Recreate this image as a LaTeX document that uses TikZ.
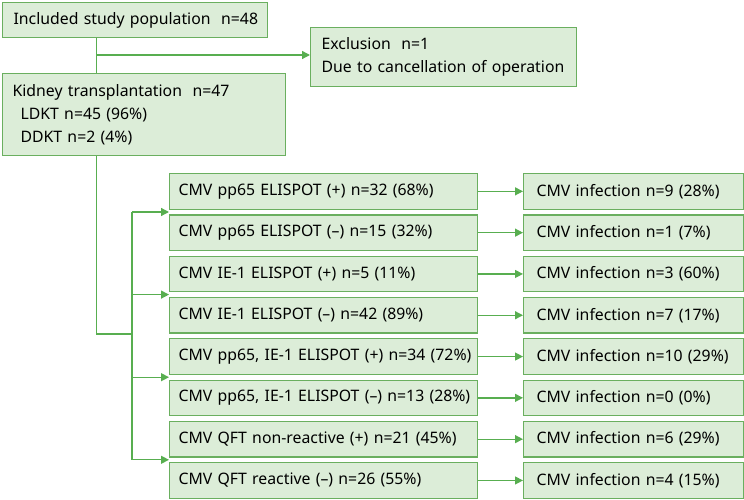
\documentclass[tikz,border=0pt]{standalone}
\usepackage{fontspec}
\setmainfont{Noto Sans}
\usetikzlibrary{arrows.meta,calc}
\definecolor{boxfill}{HTML}{DCEDD8}
\definecolor{boxline}{HTML}{6AAF5F}
\definecolor{conn}{HTML}{58AE50}
\tikzset{
  fbox/.style={draw=boxline,fill=boxfill,line width=1.2pt,anchor=north west,inner ysep=0pt,align=left,font=\fontsize{15.8}{23}\selectfont},
  conline/.style={draw=conn,line width=1.3pt},
  arr/.style={conline,-{Triangle[length=8pt,width=8pt]}},
  midbox/.style={fbox,minimum width=308pt,minimum height=35.5pt,text width=290pt,inner xsep=9pt},
  endbox/.style={fbox,minimum width=220pt,minimum height=35.5pt,text width=194pt,inner xsep=13pt},
}
\begin{document}
\begin{tikzpicture}[x=1pt,y=-1pt]
\useasboundingbox (0,0) rectangle (744,500);
\node[fbox,minimum width=265pt,minimum height=35pt,text width=243pt,inner xsep=11pt] (top) at (2,2) {\mbox{Included study population\ \ n=48}};
\node[fbox,minimum width=266pt,minimum height=59pt,text width=244pt,inner xsep=11pt] (excl) at (310,27) {\mbox{Exclusion\ \ n=1}\\\mbox{Due to cancellation of operation}};
\node[fbox,minimum width=283pt,minimum height=82pt,text width=263pt,inner xsep=10pt] (kid) at (2,73) {\mbox{Kidney transplantation\ \ n=47}\\\mbox{\hspace{8pt}LDKT n=45 (96\%)}\\\mbox{\hspace{8pt}DDKT n=2 (4\%)}};
\foreach \i/\a/\b in {
 1/{CMV pp65 ELISPOT (+) n=32 (68\%)}/{CMV infection n=9 (28\%)},
 2/{CMV pp65 ELISPOT (–) n=15 (32\%)}/{CMV infection n=1 (7\%)},
 3/{CMV IE-1 ELISPOT (+) n=5 (11\%)}/{CMV infection n=3 (60\%)},
 4/{CMV IE-1 ELISPOT (–) n=42 (89\%)}/{CMV infection n=7 (17\%)},
 5/{CMV pp65, IE-1 ELISPOT (+) n=34 (72\%)}/{CMV infection n=10 (29\%)},
 6/{CMV pp65, IE-1 ELISPOT (–) n=13 (28\%)}/{CMV infection n=0 (0\%)},
 7/{CMV QFT non-reactive (+) n=21 (45\%)}/{CMV infection n=6 (29\%)},
 8/{CMV QFT reactive (–) n=26 (55\%)}/{CMV infection n=4 (15\%)}} {
  \node[midbox] (m\i) at (169,{173+41.3*(\i-1)}) {\mbox{\a}};
  \node[endbox] (e\i) at (523,{173+41.3*(\i-1)}) {\mbox{\b}};
  \draw[arr] (m\i.east) -- (e\i.west);
}
\coordinate (j1) at (96.7,55);
\coordinate (j2) at (96.7,334);
\coordinate (j3) at (132,334);
\coordinate (a1) at ($(m1.south)!0.5!(m2.north)$);
\coordinate (a2) at ($(m3.south)!0.5!(m4.north)$);
\coordinate (a3) at ($(m5.south)!0.5!(m6.north)$);
\coordinate (a4) at ($(m7.south)!0.5!(m8.north)$);
\draw[conline] (top.south -| j1) -- (kid.north -| j1);
\draw[arr] (j1) -- (j1 -| excl.west);
\draw[conline] (kid.south -| j2) -- (j2) -- (j3);
\draw[conline] (a1 -| j3) -- (a4 -| j3);
\foreach \k in {1,2,3,4} {
  \draw[arr] (a\k -| j3) -- (a\k -| m1.west);
}
\end{tikzpicture}
\end{document}
